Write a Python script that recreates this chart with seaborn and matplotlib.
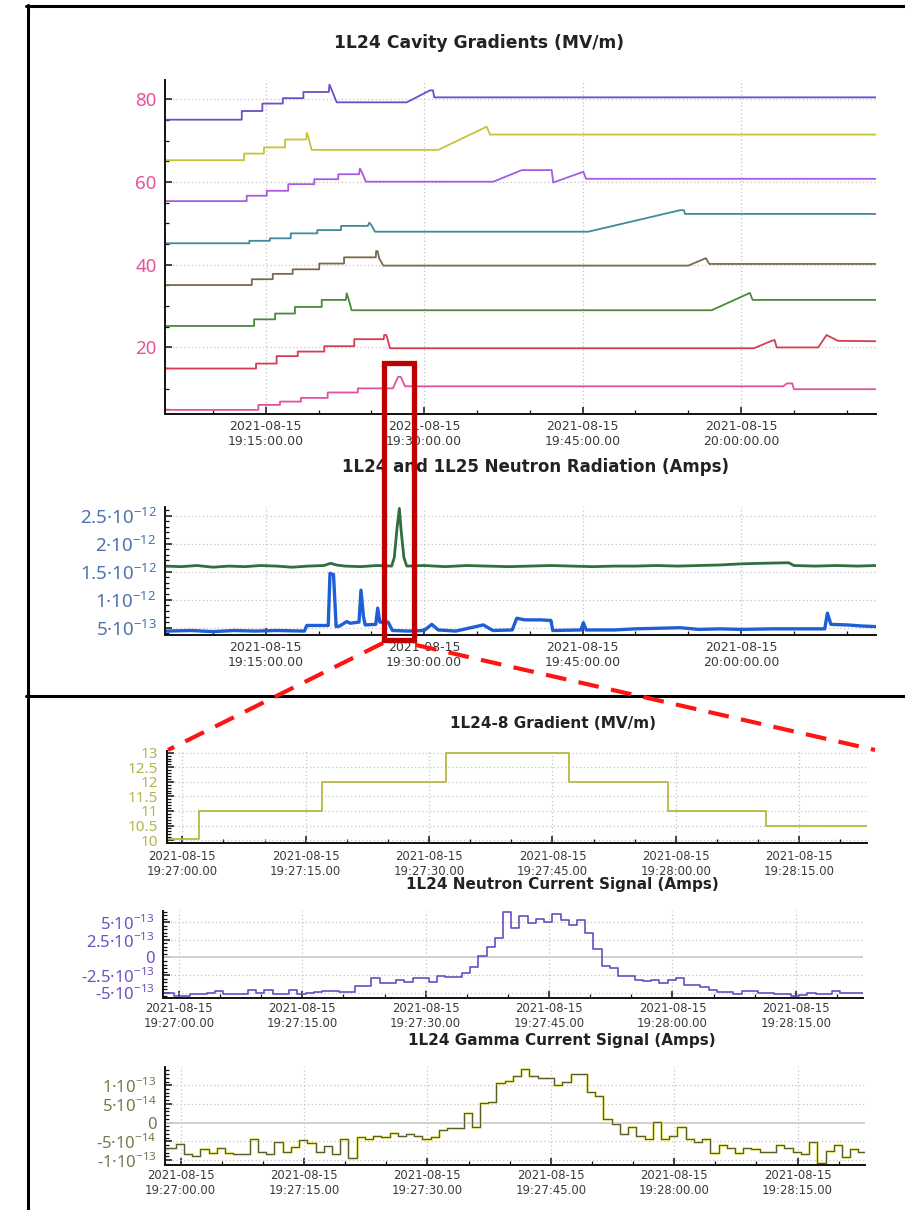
import matplotlib
matplotlib.use("Agg")
import numpy as np
import pandas as pd
import matplotlib.pyplot as plt
import matplotlib.dates as mdates
from matplotlib.ticker import FixedLocator, MultipleLocator, FuncFormatter
from matplotlib.patches import Rectangle
from matplotlib.lines import Line2D
import seaborn as sns

sns.set_theme(style="white")
plt.rcParams["font.family"] = ["DejaVu Sans"]
plt.rcParams["mathtext.fontset"] = "custom"
plt.rcParams["mathtext.rm"] = "Noto Sans"

DAY = "2021-08-15"

# ---------------- 1L24 cavity gradients (MV/m), cavities 1..8 top to bottom
cav1 = [("19:05:28", 75.1), ("19:12:44", 75.1), ("19:12:44", 77.2), ("19:14:41", 77.2),
        ("19:14:41", 79.0), ("19:16:37", 79.0), ("19:16:37", 80.3), ("19:18:34", 80.3),
        ("19:18:34", 81.8), ("19:20:58", 81.8), ("19:21:02", 83.6), ("19:21:12", 82.6),
        ("19:21:43", 79.3), ("19:28:21", 79.3), ("19:30:33", 82.2), ("19:30:50", 82.2),
        ("19:30:57", 80.5), ("20:12:46", 80.5)]
cav2 = [("19:05:28", 65.3), ("19:12:57", 65.3), ("19:12:57", 66.9), ("19:14:50", 66.9),
        ("19:14:50", 68.4), ("19:16:50", 68.4), ("19:16:50", 70.3), ("19:18:50", 70.3),
        ("19:18:53", 71.9), ("19:19:00", 71.2), ("19:19:21", 67.8), ("19:31:20", 67.8),
        ("19:35:55", 73.4), ("19:36:14", 71.5), ("20:12:46", 71.5)]
cav3 = [("19:05:28", 55.4), ("19:13:12", 55.4), ("19:13:12", 56.7), ("19:15:06", 56.7),
        ("19:15:06", 57.9), ("19:17:08", 57.9), ("19:17:08", 59.5), ("19:19:36", 59.5),
        ("19:19:36", 60.7), ("19:21:52", 60.7), ("19:21:52", 61.9), ("19:23:50", 61.9),
        ("19:23:55", 63.3), ("19:24:05", 62.5), ("19:24:29", 60.1), ("19:36:33", 60.1),
        ("19:39:14", 62.9), ("19:42:04", 62.9), ("19:42:13", 59.9), ("19:45:04", 62.5),
        ("19:45:19", 60.8), ("20:12:46", 60.8)]
cav4 = [("19:05:28", 45.2), ("19:13:27", 45.2), ("19:13:27", 45.8), ("19:15:24", 45.8),
        ("19:15:24", 46.4), ("19:17:22", 46.4), ("19:17:22", 47.6), ("19:19:53", 47.6),
        ("19:19:53", 48.4), ("19:22:08", 48.4), ("19:22:08", 49.4), ("19:24:40", 49.4),
        ("19:24:48", 50.2), ("19:25:00", 49.6), ("19:25:21", 48.0), ("19:45:32", 48.0),
        ("19:54:13", 53.2), ("19:54:35", 53.2), ("19:54:41", 52.3), ("20:12:46", 52.3)]
cav5 = [("19:05:28", 35.1), ("19:13:41", 35.1), ("19:13:41", 36.5), ("19:15:40", 36.5),
        ("19:15:40", 37.8), ("19:17:33", 37.8), ("19:17:33", 38.9), ("19:20:04", 38.9),
        ("19:20:04", 40.3), ("19:22:25", 40.3), ("19:22:25", 41.8), ("19:25:25", 41.8),
        ("19:25:27", 43.3), ("19:25:35", 43.3), ("19:25:45", 41.5), ("19:26:08", 39.8),
        ("19:55:00", 39.8), ("19:56:40", 41.6), ("19:56:59", 40.2), ("20:12:46", 40.2)]
cav6 = [("19:05:28", 25.2), ("19:13:54", 25.2), ("19:13:54", 26.8), ("19:15:53", 26.8),
        ("19:15:53", 28.2), ("19:17:46", 28.2), ("19:17:46", 29.8), ("19:20:18", 29.8),
        ("19:20:18", 31.5), ("19:22:35", 31.5), ("19:22:40", 33.1), ("19:22:50", 31.8),
        ("19:23:08", 29.0), ("19:57:13", 29.0), ("20:00:50", 33.2), ("20:01:05", 31.5),
        ("20:12:46", 31.5)]
cav7 = [("19:05:28", 14.9), ("19:14:05", 14.9), ("19:14:05", 16.1), ("19:16:02", 16.1),
        ("19:16:02", 17.9), ("19:18:02", 17.9), ("19:18:02", 19.0), ("19:20:33", 19.0),
        ("19:20:33", 20.3), ("19:23:23", 20.3), ("19:23:23", 22.0), ("19:26:10", 22.0),
        ("19:26:13", 23.0), ("19:26:25", 23.0), ("19:26:46", 19.8), ("20:01:13", 19.8),
        ("20:02:53", 21.6), ("20:03:10", 21.8), ("20:03:22", 20.0), ("20:07:18", 20.0),
        ("20:08:05", 23.0), ("20:09:10", 21.6), ("20:12:46", 21.5)]
cav8 = [("19:05:28", 4.9), ("19:14:18", 4.9), ("19:14:18", 6.1), ("19:16:21", 6.1),
        ("19:16:21", 6.9), ("19:18:20", 6.9), ("19:18:20", 7.8), ("19:20:52", 7.8),
        ("19:20:52", 9.1), ("19:23:43", 9.1), ("19:23:43", 10.1), ("19:27:02", 10.1),
        ("19:27:32", 12.9), ("19:27:47", 12.9), ("19:28:11", 10.6), ("20:03:59", 10.6),
        ("20:04:20", 11.3), ("20:04:50", 11.3), ("20:05:00", 9.9), ("20:12:46", 9.9)]
cavities = [cav1, cav2, cav3, cav4, cav5, cav6, cav7, cav8]
cavity_colors = ["#6f4cc8", "#c4c43a", "#a85be0", "#3f8a9c",
                 "#7a6a4a", "#4b8a3e", "#d63c52", "#e0529e"]
grad_ticks = [20, 40, 60, 80]
grad_labels = ["20", "40", "60", "80"]

# ---------------- 1L24 / 1L25 neutron radiation (A)
rad_1l25 = [("19:05:28", 1.60e-12), ("19:07:00", 1.59e-12), ("19:08:30", 1.61e-12),
            ("19:10:00", 1.58e-12), ("19:11:30", 1.60e-12), ("19:13:00", 1.59e-12),
            ("19:14:30", 1.61e-12), ("19:16:00", 1.60e-12), ("19:17:30", 1.58e-12),
            ("19:19:00", 1.60e-12), ("19:20:30", 1.61e-12), ("19:21:10", 1.65e-12),
            ("19:21:40", 1.62e-12), ("19:22:30", 1.60e-12), ("19:24:00", 1.59e-12),
            ("19:25:30", 1.61e-12), ("19:26:55", 1.60e-12), ("19:27:10", 1.75e-12),
            ("19:27:25", 2.25e-12), ("19:27:39", 2.63e-12), ("19:27:50", 2.20e-12),
            ("19:28:05", 1.75e-12), ("19:28:21", 1.60e-12), ("19:30:00", 1.61e-12),
            ("19:32:00", 1.59e-12), ("19:34:00", 1.61e-12), ("19:36:00", 1.60e-12),
            ("19:38:00", 1.59e-12), ("19:40:00", 1.60e-12), ("19:42:00", 1.61e-12),
            ("19:44:00", 1.60e-12), ("19:46:00", 1.59e-12), ("19:48:00", 1.60e-12),
            ("19:50:00", 1.60e-12), ("19:52:00", 1.61e-12), ("19:54:00", 1.60e-12),
            ("19:56:00", 1.61e-12), ("19:58:00", 1.62e-12), ("20:00:00", 1.64e-12),
            ("20:02:00", 1.65e-12), ("20:04:30", 1.66e-12), ("20:05:00", 1.61e-12),
            ("20:07:00", 1.60e-12), ("20:09:00", 1.61e-12), ("20:11:00", 1.60e-12),
            ("20:12:46", 1.61e-12)]
rad_1l24 = [("19:05:28", 4.4e-13), ("19:08:00", 4.5e-13), ("19:10:00", 4.3e-13),
            ("19:12:00", 4.5e-13), ("19:14:00", 4.4e-13), ("19:16:00", 4.5e-13),
            ("19:18:40", 4.4e-13), ("19:18:53", 5.4e-13), ("19:20:55", 5.4e-13),
            ("19:21:05", 14.7e-13), ("19:21:25", 14.5e-13), ("19:21:40", 5.2e-13),
            ("19:22:00", 5.3e-13), ("19:22:40", 6.1e-13), ("19:23:00", 5.8e-13),
            ("19:23:50", 6.0e-13), ("19:24:01", 11.7e-13), ("19:24:15", 7.0e-13),
            ("19:24:25", 5.5e-13), ("19:25:25", 5.6e-13), ("19:25:36", 8.5e-13),
            ("19:25:48", 6.0e-13), ("19:26:35", 6.0e-13), ("19:27:00", 4.5e-13),
            ("19:28:30", 4.4e-13), ("19:30:00", 4.5e-13), ("19:30:43", 5.6e-13),
            ("19:31:20", 4.6e-13), ("19:33:00", 4.4e-13), ("19:35:36", 5.5e-13),
            ("19:36:30", 4.5e-13), ("19:38:20", 4.6e-13), ("19:38:46", 6.7e-13),
            ("19:39:30", 6.4e-13), ("19:41:00", 6.4e-13), ("19:42:00", 6.3e-13),
            ("19:42:10", 4.5e-13), ("19:44:50", 4.6e-13), ("19:45:04", 5.9e-13),
            ("19:45:20", 4.6e-13), ("19:48:00", 4.6e-13), ("19:50:00", 4.8e-13),
            ("19:54:13", 5.0e-13), ("19:56:00", 4.7e-13), ("19:58:00", 4.8e-13),
            ("20:00:00", 4.7e-13), ("20:03:00", 4.8e-13), ("20:07:55", 4.8e-13),
            ("20:08:10", 7.6e-13), ("20:08:30", 5.6e-13), ("20:10:00", 5.5e-13),
            ("20:11:30", 5.3e-13), ("20:12:46", 5.2e-13)]
rad_ticks = [5e-13, 1e-12, 1.5e-12, 2e-12, 2.5e-12]
rad_labels = ["5·10$^{-13}$", "1·10$^{-12}$", "1.5·10$^{-12}$", "2·10$^{-12}$", "2.5·10$^{-12}$"]

# ---------------- zoomed window 19:27 - 19:28
cav8_zoom = [("19:26:50", 10.02), ("19:27:02", 11.0), ("19:27:17", 12.0), ("19:27:32", 13.0),
             ("19:27:47", 12.0), ("19:27:59", 11.0), ("19:28:11", 10.5), ("19:28:30", 10.5)]
cav8_ticks = [10, 10.5, 11, 11.5, 12, 12.5, 13]
cav8_labels = ["10", "10.5", "11", "11.5", "12", "12.5", "13"]

signal_start = "19:26:57.4"   # 1 Hz samples
neutron_signal = np.array([
    -5.0, -5.0, -5.5, -5.5, -5.2, -5.2, -5.06, -4.82, -5.15, -5.15, -5.15, -4.68, -5.06,
    -4.68, -5.2, -5.2, -4.59, -5.15, -5.0, -4.87, -4.8, -4.73, -4.87, -4.87, -4.02, -4.02,
    -2.93, -3.64, -3.64, -3.17, -3.45, -2.93, -2.93, -3.45, -2.6, -2.75, -2.75, -2.25, -1.4,
    0.24, 1.47, 2.84, 6.44, 4.17, 5.83, 4.97, 5.54, 5.07, 6.11, 5.26, 4.60, 5.26, 3.55, 1.19,
    -1.18, -1.56, -2.70, -2.70, -3.17, -3.31, -3.22, -3.64, -3.17, -2.93, -3.88, -3.88, -4.26,
    -4.59, -4.97, -4.97, -5.2, -4.82, -4.82, -5.06, -5.06, -5.2, -5.2, -5.53, -5.3, -5.06,
    -5.2, -5.2, -4.82, -5.06, -5.06, -5.06, -5.06]) * 1e-13
gamma_signal = np.array([
    -6.68, -6.68, -5.79, -8.46, -8.9, -7.03, -8.19, -6.86, -8.19, -8.46, -8.46, -4.36, -7.75,
    -8.46, -5.07, -7.75, -6.6, -4.63, -5.34, -7.75, -6.15, -8.46, -4.36, -9.35, -3.74, -4.45,
    -3.56, -3.92, -2.67, -3.56, -3.03, -3.56, -4.36, -3.92, -1.96, -1.52, -1.52, 2.49, -1.07,
    5.18, 5.62, 10.7, 11.15, 12.57, 14.36, 12.57, 12.04, 12.04, 10.08, 10.97, 12.93, 12.93,
    8.29, 7.22, 0.89, -0.36, -3.03, -1.07, -3.56, -4.36, 0.09, -4.36, -3.47, -1.07, -4.36,
    -5.07, -4.36, -8.19, -5.96, -6.68, -8.19, -6.86, -7.03, -7.75, -7.75, -5.96, -6.86,
    -7.75, -8.46, -5.07, -10.86, -7.57, -5.96, -9.08, -7.03, -7.75, -7.75]) * 1e-14
neutron_ticks = [-5e-13, -2.5e-13, 0, 2.5e-13, 5e-13]
neutron_labels = ["-5·10$^{-13}$", "-2.5·10$^{-13}$", "0", "2.5·10$^{-13}$", "5·10$^{-13}$"]
gamma_ticks = [-1e-13, -5e-14, 0, 5e-14, 1e-13]
gamma_labels = ["-1·10$^{-13}$", "-5·10$^{-14}$", "0", "5·10$^{-14}$", "1·10$^{-13}$"]


def frame(points):
    t, v = zip(*points)
    return pd.DataFrame({"time": pd.to_datetime([f"{DAY} {s}" for s in t]), "value": v})


def sampled(values):
    times = pd.date_range(f"{DAY} {signal_start}", periods=len(values), freq="1s")
    return pd.DataFrame({"time": times, "value": values})


W, H = 905, 1210
fig = plt.figure(figsize=(W / 100, H / 100), dpi=100)
fig.patch.set_facecolor("white")


def add_axes(x0, y0, x1, y1):
    return fig.add_axes([x0 / W, 1 - y1 / H, (x1 - x0) / W, (y1 - y0) / H])


time_fmt = FuncFormatter(lambda v, p: mdates.num2date(v).strftime("%Y-%m-%d\n%H:%M:%S.00"))
GRID = dict(color="#c4c4c4", linestyle=(0, (1, 2)), linewidth=0.9)


def style(ax, ticks, labels, ycolor, ysize, xsize, xmajor, xminor, yminor, xpad=4):
    for s in ["top", "right"]:
        ax.spines[s].set_visible(False)
    for s in ["left", "bottom"]:
        ax.spines[s].set_color("#111111")
        ax.spines[s].set_linewidth(1.4)
    ax.set_xlabel("")
    ax.set_ylabel("")
    ax.yaxis.set_major_locator(FixedLocator(ticks))
    ax.set_yticklabels(labels)
    ax.yaxis.set_minor_locator(MultipleLocator(yminor))
    ax.xaxis.set_major_locator(xmajor)
    ax.xaxis.set_minor_locator(xminor)
    ax.xaxis.set_major_formatter(time_fmt)
    ax.tick_params(which="both", bottom=True, left=True, top=False, right=False)
    ax.tick_params(which="major", direction="in", length=5, width=1.1, color="#111111")
    ax.tick_params(which="minor", direction="in", length=3, width=0.9, color="#111111")
    ax.tick_params(axis="y", which="major", labelcolor=ycolor, labelsize=ysize, pad=6)
    ax.tick_params(axis="x", which="major", labelcolor="#3a3a3a", labelsize=xsize, pad=xpad)
    for lab in ax.get_yticklabels():
        lab.set_fontfamily("Noto Sans")
    ax.grid(True, which="major", **GRID)
    ax.set_axisbelow(True)
    ax.set_facecolor("white")


def tstamp(s):
    return pd.Timestamp(f"{DAY} {s}")


# ---------------- top: cavity gradients
ax1 = add_axes(165, 80, 876, 414)
for pts, col in zip(cavities, cavity_colors):
    sns.lineplot(data=frame(pts), x="time", y="value", estimator=None, sort=False,
                 color=col, linewidth=1.3, ax=ax1)
ax1.set_xlim(tstamp("19:05:28"), tstamp("20:12:46"))
ax1.set_ylim(3.9, 84.7)
style(ax1, grad_ticks, grad_labels, "#e6529c", 13.5, 9,
      mdates.MinuteLocator(byminute=[0, 15, 30, 45]),
      mdates.MinuteLocator(byminute=range(0, 60, 5)), 5)

# ---------------- neutron radiation overview
ax2 = add_axes(165, 506.7, 876, 635)
sns.lineplot(data=frame(rad_1l25), x="time", y="value", estimator=None, sort=False,
             color="#2f6e3f", linewidth=2.0, ax=ax2)
sns.lineplot(data=frame(rad_1l24), x="time", y="value", estimator=None, sort=False,
             color="#1f5fd6", linewidth=2.4, ax=ax2)
ax2.set_xlim(tstamp("19:05:28"), tstamp("20:12:46"))
ax2.set_ylim(3.7e-13, 2.66e-12)
style(ax2, rad_ticks, rad_labels, "#4f73b0", 13.5, 9,
      mdates.MinuteLocator(byminute=[0, 15, 30, 45]),
      mdates.MinuteLocator(byminute=range(0, 60, 5)), 1e-13)

zoom_lim = (tstamp("19:26:58.1"), tstamp("19:28:23.2"))
sec_major = mdates.SecondLocator(bysecond=[0, 15, 30, 45])

# ---------------- 1L24-8 gradient
ax3 = add_axes(166.7, 750.7, 866.7, 842.7)
sns.lineplot(data=frame(cav8_zoom), x="time", y="value", estimator=None, sort=False,
             drawstyle="steps-post", color="#b8b846", linewidth=1.3, ax=ax3)
ax3.set_xlim(*zoom_lim)
ax3.set_ylim(9.91, 13.07)
style(ax3, cav8_ticks, cav8_labels, "#b4b44e", 11, 8.4,
      sec_major, mdates.SecondLocator(bysecond=range(0, 60, 5)), 0.1, xpad=5)

# ---------------- 1L24 neutron current signal
ax4 = add_axes(163.3, 910.7, 863.3, 998.3)
ax4.axhline(0, color="#cfcfcf", linewidth=1.3, zorder=1)
sns.lineplot(data=sampled(neutron_signal), x="time", y="value", estimator=None, sort=False,
             drawstyle="steps-post", color="#6a4cc2", linewidth=1.2, ax=ax4)
ax4.set_xlim(*zoom_lim)
ax4.set_ylim(-5.8e-13, 6.65e-13)
style(ax4, neutron_ticks, neutron_labels, "#7050c0", 12, 8.4,
      sec_major, mdates.SecondLocator(bysecond=range(0, 60, 5)), 5e-14, xpad=3)

# ---------------- 1L24 gamma current signal
ax5 = add_axes(165, 1067.3, 865, 1165)
ax5.axhline(0, color="#cfcfcf", linewidth=1.3, zorder=1)
sns.lineplot(data=sampled(gamma_signal), x="time", y="value", estimator=None, sort=False,
             drawstyle="steps-post", color="#e2e27a", linewidth=1.9, ax=ax5)
sns.lineplot(data=sampled(gamma_signal), x="time", y="value", estimator=None, sort=False,
             drawstyle="steps-post", color="#5c5c24", linewidth=0.8, ax=ax5)
ax5.set_xlim(*zoom_lim)
ax5.set_ylim(-1.13e-13, 1.48e-13)
style(ax5, gamma_ticks, gamma_labels, "#78784c", 12, 8.4,
      sec_major, mdates.SecondLocator(bysecond=range(0, 60, 5)), 1e-14, xpad=3)

# ---------------- titles
def title(x, y, s, size):
    fig.text(x / W, 1 - y / H, s, ha="center", va="center", fontsize=size,
             fontweight="bold", color="#222222")


title(479, 43, "1L24 Cavity Gradients (MV/m)", 12.3)
title(536, 467, "1L24 and 1L25 Neutron Radiation (Amps)", 12)
title(553, 724, "1L24-8 Gradient (MV/m)", 11)
title(562, 884, "1L24 Neutron Current Signal (Amps)", 11)
title(562, 1040, "1L24 Gamma Current Signal (Amps)", 11)

# ---------------- frame, divider and zoom callout
def fx(x):
    return x / W


def fy(y):
    return 1 - y / H


for xs, ys in [([27.5, 27.5], [5, 1210]), ([26, 905], [5.5, 5.5]), ([26, 905], [696, 696])]:
    fig.add_artist(Line2D([fx(v) for v in xs], [fy(v) for v in ys], color="black",
                          linewidth=2.2, transform=fig.transFigure))

fig.add_artist(Rectangle((fx(384.2), fy(640.2)), fx(414) - fx(384.2), fy(362.5) - fy(640.2),
                         fill=False, edgecolor="#c00000", linewidth=3.8,
                         transform=fig.transFigure, zorder=10))
for xs, ys in [([383, 168], [643, 750]), ([416, 875], [645, 750])]:
    fig.add_artist(Line2D([fx(v) for v in xs], [fy(v) for v in ys], color="#ff1414",
                          linewidth=3.0, linestyle=(0, (5, 3)),
                          transform=fig.transFigure, zorder=10))

fig.savefig("out.png", dpi=100, facecolor="white")
